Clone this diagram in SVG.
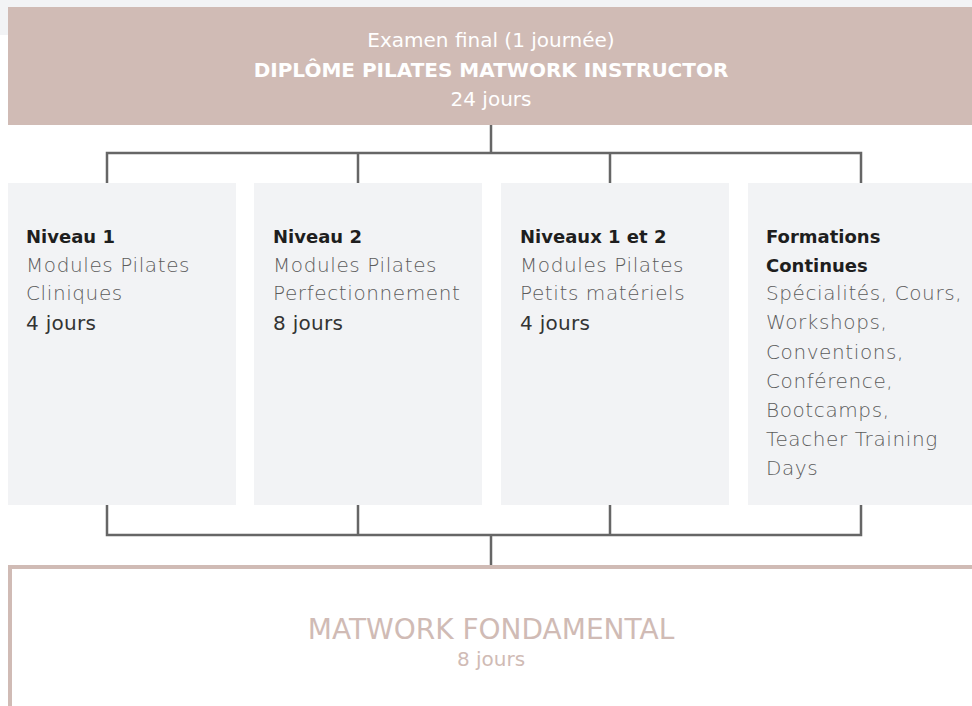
<svg xmlns="http://www.w3.org/2000/svg" width="972" height="706" viewBox="0 0 972 706">
<style>
.conn{stroke:#666;stroke-width:2.5;fill:none}
.card{fill:#f2f3f5}
.t{font-family:"DejaVu Sans","Noto Sans",sans-serif}
.hd{fill:#fff;font-size:20px;text-anchor:middle}
.ttl{font-size:18px;font-weight:700;fill:#1e1e1e}
.body{font-size:20px;font-weight:200;fill:#5c5c5c;letter-spacing:0.6px}
.dur{font-size:20px;font-weight:400;fill:#333;letter-spacing:0.3px}
.pk{fill:#d0bbb5;text-anchor:middle}
</style>
<rect x="0" y="0" width="972" height="35" fill="#f2f3f5"/>
<g id="header">
<rect x="8" y="7" width="964" height="118" fill="#d0bbb5"/>
<text class="t hd" x="491" y="47">Examen final (1 journée)</text>
<text class="t hd" x="491" y="77" font-weight="700" font-size="19">DIPLÔME PILATES MATWORK INSTRUCTOR</text>
<text class="t hd" x="491" y="106">24 jours</text>
</g>
<g id="connectors">
<path class="conn" d="M491 125V153M107 183V153H861V183M358 153V183M610 153V183"/>
<path class="conn" d="M107 505V535H861V505M358 505V535M610 505V535M491 535V565"/>
</g>
<g id="niveau1">
<rect class="card" x="8" y="183" width="228" height="322"/>
<text class="t ttl" x="26" y="243">Niveau 1</text>
<text class="t body" x="26" y="272">Modules Pilates</text>
<text class="t body" x="26" y="300">Cliniques</text>
<text class="t dur" x="26" y="330">4 jours</text>
</g>
<g id="niveau2">
<rect class="card" x="254" y="183" width="228" height="322"/>
<text class="t ttl" x="273" y="243">Niveau 2</text>
<text class="t body" x="273" y="272">Modules Pilates</text>
<text class="t body" x="273" y="300">Perfectionnement</text>
<text class="t dur" x="273" y="330">8 jours</text>
</g>
<g id="niveaux12">
<rect class="card" x="501" y="183" width="228" height="322"/>
<text class="t ttl" x="520" y="243">Niveaux 1 et 2</text>
<text class="t body" x="520" y="272">Modules Pilates</text>
<text class="t body" x="520" y="300">Petits matériels</text>
<text class="t dur" x="520" y="330">4 jours</text>
</g>
<g id="formations">
<rect class="card" x="748" y="183" width="224" height="322"/>
<text class="t ttl" x="766" y="243">Formations</text>
<text class="t ttl" x="766" y="272">Continues</text>
<text class="t body" x="766" y="300">Spécialités, Cours,</text>
<text class="t body" x="766" y="329">Workshops,</text>
<text class="t body" x="766" y="359">Conventions,</text>
<text class="t body" x="766" y="388">Conférence,</text>
<text class="t body" x="766" y="417">Bootcamps,</text>
<text class="t body" x="766" y="446">Teacher Training</text>
<text class="t body" x="766" y="475">Days</text>
</g>
<g id="fondamental">
<rect x="10" y="567" width="968" height="150" fill="#fff" stroke="#d0bbb5" stroke-width="4"/>
<text class="t pk" x="491" y="639" font-size="28">MATWORK FONDAMENTAL</text>
<text class="t pk" x="491" y="666" font-size="20">8 jours</text>
</g>
</svg>
